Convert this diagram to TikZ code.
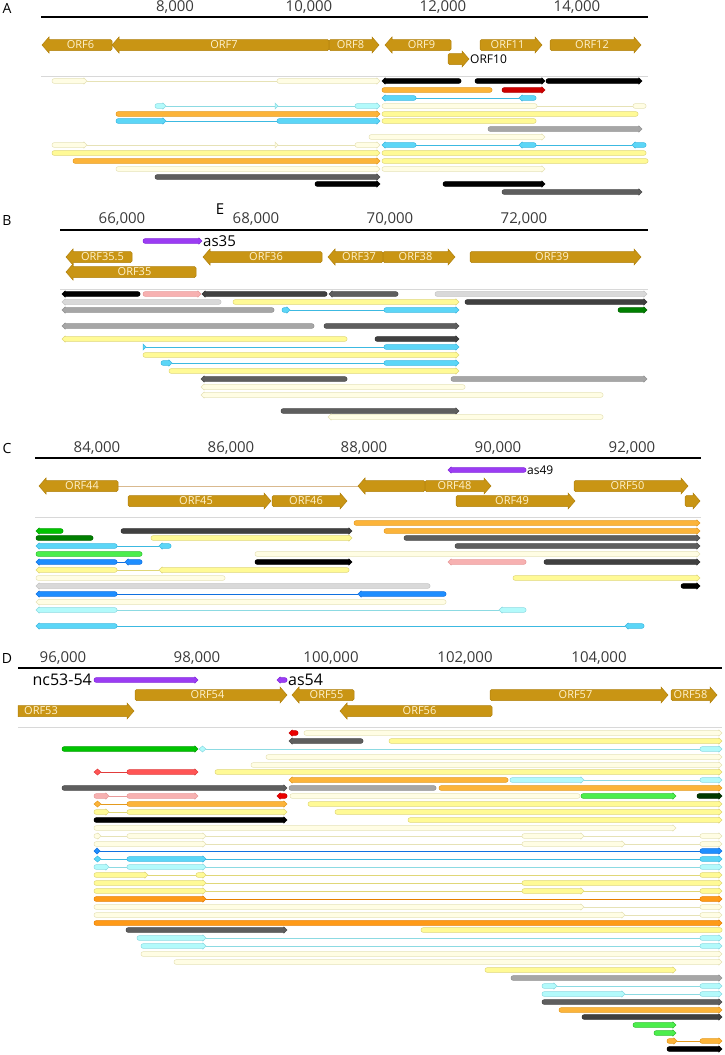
\documentclass[tikz,border=0pt]{standalone}
\usepackage{fontspec}
\setmainfont{Open Sans}
\definecolor{gold}{RGB}{201,149,20}
\definecolor{golddk}{RGB}{176,128,12}
\definecolor{glabc}{HTML}{FFF3CF}
\definecolor{tickc}{HTML}{3A3A3A}
\definecolor{sepc}{HTML}{D8D8D8}
\definecolor{tanc}{HTML}{D9B98F}
\tikzset{
 gene/.style={fill=gold,draw=golddk,line width=0.5pt},
 glab/.style={text=glabc,font=\fontsize{11}{12}\selectfont,inner sep=0pt},
 tick/.style={text=tickc,font=\fontsize{15}{16}\selectfont,inner sep=0pt},
 plab/.style={font=\fontsize{14}{15}\selectfont,inner sep=0pt},
 nlab/.style={font=\fontsize{15}{16}\selectfont,inner sep=0pt,anchor=west},
 axis/.style={line width=1.8pt},
 sep/.style={draw=sepc,line width=0.8pt},
 ty/.style={fill={rgb,255:red,255;green,250;blue,150},draw={rgb,255:red,224;green,215;blue,120},line width=0.5pt},
 tc/.style={fill={rgb,255:red,255;green,253;blue,228},draw={rgb,255:red,230;green,226;blue,182},line width=0.5pt},
 tcy/.style={fill={rgb,255:red,92;green,214;blue,247},draw={rgb,255:red,60;green,185;blue,225},line width=0.5pt},
 tlc/.style={fill={rgb,255:red,179;green,250;blue,251},draw={rgb,255:red,140;green,218;blue,226},line width=0.5pt},
 to/.style={fill={rgb,255:red,252;green,180;blue,58},draw={rgb,255:red,228;green,154;blue,30},line width=0.5pt},
 too/.style={fill={rgb,255:red,255;green,154;blue,23},draw={rgb,255:red,230;green,126;blue,0},line width=0.5pt},
 tk/.style={fill=black,draw=black,line width=0.5pt},
 tdg/.style={fill={rgb,255:red,94;green,94;blue,94},draw={rgb,255:red,74;green,74;blue,74},line width=0.5pt},
 tdk/.style={fill={rgb,255:red,64;green,64;blue,64},draw={rgb,255:red,50;green,50;blue,50},line width=0.5pt},
 tg/.style={fill={rgb,255:red,166;green,166;blue,166},draw={rgb,255:red,145;green,145;blue,145},line width=0.5pt},
 tlg/.style={fill={rgb,255:red,217;green,217;blue,217},draw={rgb,255:red,196;green,196;blue,196},line width=0.5pt},
 tr/.style={fill={rgb,255:red,204;green,0;blue,0},draw={rgb,255:red,180;green,0;blue,0},line width=0.5pt},
 tr2/.style={fill={rgb,255:red,235;green,0;blue,0},draw={rgb,255:red,200;green,0;blue,0},line width=0.5pt},
 tr3/.style={fill={rgb,255:red,255;green,85;blue,85},draw={rgb,255:red,225;green,60;blue,60},line width=0.5pt},
 tp/.style={fill={rgb,255:red,247;green,177;blue,177},draw={rgb,255:red,232;green,154;blue,154},line width=0.5pt},
 tb/.style={fill={rgb,255:red,30;green,142;blue,255},draw={rgb,255:red,16;green,112;blue,224},line width=0.5pt},
 tgr/.style={fill={rgb,255:red,0;green,196;blue,0},draw={rgb,255:red,0;green,160;blue,0},line width=0.5pt},
 tdgr/.style={fill={rgb,255:red,0;green,127;blue,0},draw={rgb,255:red,0;green,100;blue,0},line width=0.5pt},
 tlgr/.style={fill={rgb,255:red,76;green,238;blue,76},draw={rgb,255:red,48;green,192;blue,48},line width=0.5pt},
 tvdg/.style={fill={rgb,255:red,0;green,58;blue,0},draw={rgb,255:red,0;green,40;blue,0},line width=0.5pt},
 tpu/.style={fill={rgb,255:red,155;green,60;blue,243},draw={rgb,255:red,130;green,40;blue,220},line width=0.5pt},
}
% exon with right arrow: style, y, x1, x2
\newcommand\xr[4]{\filldraw[#1] ({#4-3.2},{#2-2.3}) [rounded corners=2pt] -- (#3,{#2-2.3}) -- (#3,{#2+2.3}) [sharp corners] -- ({#4-3.2},{#2+2.3}) -- ({#4-3.2},{#2+3.1}) -- (#4,#2) -- ({#4-3.2},{#2-3.1}) -- cycle;}
\newcommand\xl[4]{\filldraw[#1] ({#3+3.2},{#2-2.3}) [rounded corners=2pt] -- (#4,{#2-2.3}) -- (#4,{#2+2.3}) [sharp corners] -- ({#3+3.2},{#2+2.3}) -- ({#3+3.2},{#2+3.1}) -- (#3,#2) -- ({#3+3.2},{#2-3.1}) -- cycle;}
\newcommand\xn[4]{\filldraw[#1,rounded corners=2pt] (#3,{#2-2.3}) rectangle (#4,{#2+2.3});}
\newcommand\xd[4]{\filldraw[#1] (#3,#2) -- ({(#3+#4)/2},{#2-3}) -- (#4,#2) -- ({(#3+#4)/2},{#2+3}) -- cycle;}
\newcommand\xt[3]{\filldraw[#1] ({#3-3},{#2-3}) -- (#3,#2) -- ({#3-3},{#2+3}) -- cycle;}
\newcommand\cn[4]{\draw[#1,line width=0.7pt] (#3,#2) -- (#4,#2);}
% genes: y, x1, x2, label
\newcommand\gr[4]{\filldraw[gene] ({#3-7},{#1-5.5}) [rounded corners=1.5pt] -- (#2,{#1-5.5}) -- (#2,{#1+5.5}) [sharp corners] -- ({#3-7},{#1+5.5}) -- ({#3-7},{#1+8}) -- (#3,#1) -- ({#3-7},{#1-8}) -- cycle;
 \node[glab] (g#4#1) at ({(#2+#3-7)/2},#1) {#4};}
\newcommand\gl[4]{\filldraw[gene] ({#2+7},{#1-5.5}) -- ({#2+7},{#1-8}) -- (#2,#1) -- ({#2+7},{#1+8}) -- ({#2+7},{#1+5.5}) [rounded corners=1.5pt] -- (#3,{#1+5.5}) -- (#3,{#1-5.5}) [sharp corners] -- cycle;
 \node[glab] (g#4#1) at ({(#2+7+#3)/2},#1) {#4};}
\begin{document}
\begin{tikzpicture}[x=1pt,y=-1pt]
\useasboundingbox (0,0) rectangle (724,1055);
% ================= A =================
\node[plab] (lA) at (7,8) {A};
\draw[axis] (41,17) -- (648,17);
\node[tick] (ta1) at (175,7) {8,000};
\node[tick] (ta2) at (309,7) {10,000};
\node[tick] (ta3) at (443,7) {12,000};
\node[tick] (ta4) at (577,7) {14,000};
\gl{45}{42}{112}{ORF6}
\gl{45}{112}{329}{ORF7}
\gr{45}{329}{379}{ORF8}
\gl{45}{385}{451}{ORF9}
\gr{45}{480}{542}{ORF11}
\gr{45}{550}{641}{ORF12}
\gr{59}{448}{469}{}
\node[font=\fontsize{12}{13}\selectfont,inner sep=0pt,anchor=west] (orf10) at (470,59) {ORF10};
\draw[sep] (41,76) -- (648,76);
\cn{tc}{81}{87}{277} \xr{tc}{81}{52}{87} \xr{tc}{81}{277}{380}
\xl{tk}{81}{382}{461} \xr{tk}{81}{475}{545} \xr{tk}{81}{546}{642}
\xn{to}{90}{382}{492} \xr{tr}{90}{502}{545}
\cn{tcy}{98}{416}{519} \xl{tcy}{98}{382}{416} \xl{tcy}{98}{519}{536}
\cn{tlc}{106}{166}{355} \xr{tlc}{106}{155}{166} \xt{tlc}{106}{278} \xr{tlc}{106}{355}{380}
\cn{tc}{106}{537}{633} \xn{tc}{106}{382}{537} \xn{tc}{106}{633}{646}
\xr{to}{114}{116}{380} \xn{ty}{114}{382}{638}
\cn{tcy}{121}{166}{277} \xr{tcy}{121}{116}{166} \xr{tcy}{121}{277}{380} \xn{ty}{121}{382}{536}
\xr{tg}{129}{488}{642}
\xr{tc}{137}{369}{545}
\cn{tc}{145}{87}{355} \xr{tc}{145}{52}{87} \xt{tc}{145}{278} \xr{tc}{145}{355}{380}
\cn{tcy}{145}{416}{632} \xl{tcy}{145}{382}{416} \xl{tcy}{145}{519}{536} \xl{tcy}{145}{632}{646}
\xr{ty}{153}{52}{380} \xn{ty}{153}{382}{646}
\xr{to}{161}{73}{380} \xn{ty}{161}{382}{648}
\xr{tc}{169}{116}{380} \xr{tc}{169}{382}{545}
\xr{tdg}{177}{155}{380}
\xr{tk}{184}{315}{380} \xr{tk}{184}{443}{545}
\xr{tdg}{192}{502}{642}
% ================= B =================
\node[plab] (lB) at (7,220) {B};
\node[tick,text=black] (lE) at (220,209) {E};
\draw[axis] (60,230) -- (648,230);
\node[tick] (tb1) at (122,219) {66,000};
\node[tick] (tb2) at (256,219) {68,000};
\node[tick] (tb3) at (390,219) {70,000};
\node[tick] (tb4) at (524,219) {72,000};
\xr{tpu}{241}{143}{202}
\node[nlab] (as35) at (203,241) {as35};
\gl{257}{66}{132}{ORF35.5}
\gl{257}{203}{322}{ORF36}
\gl{257}{328}{383}{ORF37}
\gr{257}{383}{455}{ORF38}
\gr{257}{470}{641}{ORF39}
\gl{272}{66}{196}{ORF35}
\draw[sep] (60,289) -- (648,289);
\xl{tk}{294}{62}{140} \xr{tp}{294}{143}{201} \xl{tdk}{294}{202}{327} \xl{tdg}{294}{329}{398} \xr{tlg}{294}{435}{647}
\xl{tlg}{302}{62}{221} \xr{ty}{302}{233}{459} \xr{tdk}{302}{465}{647}
\xl{tg}{310}{62}{274} \cn{tcy}{310}{290}{384} \xr{tcy}{310}{282}{290} \xr{tcy}{310}{384}{459} \xr{tdgr}{310}{618}{647}
\xl{tg}{326}{62}{314} \xr{tdg}{326}{324}{459}
\xl{ty}{339}{62}{347} \xr{tdk}{339}{375}{459}
\cn{tcy}{347}{146}{384} \xt{tcy}{347}{146} \xr{tcy}{347}{384}{459}
\xr{ty}{355}{143}{459}
\cn{tcy}{363}{172}{384} \xr{tcy}{363}{161}{172} \xr{tcy}{363}{384}{459}
\xr{ty}{371}{169}{459}
\xl{tdg}{379}{201}{347} \xr{tg}{379}{451}{647}
\xl{tc}{387}{201}{465}
\xl{tc}{395}{201}{603}
\xr{tdg}{411}{281}{459}
\xl{tc}{417}{328}{603}
% ================= C =================
\node[plab] (lC) at (7,448) {C};
\draw[axis] (35,458) -- (701,458);
\node[tick] (tc1) at (97,448) {84,000};
\node[tick] (tc2) at (231,448) {86,000};
\node[tick] (tc3) at (364,448) {88,000};
\node[tick] (tc4) at (498,448) {90,000};
\node[tick] (tc5) at (632,448) {92,000};
\xl{tpu}{470}{448}{526}
\node[nlab,font=\fontsize{12}{13}\selectfont] (as49) at (527,470) {as49};
\draw[tanc,line width=0.8pt] (118,486) -- (358,486);
\gl{486}{39}{118}{ORF44}
\gl{486}{358}{425}{}
\gr{486}{425}{491}{ORF48}
\gr{486}{574}{688}{ORF50}
\gr{501}{128}{271}{ORF45}
\gr{501}{272}{347}{ORF46}
\gr{501}{456}{575}{ORF49}
\gr{501}{685}{700}{}
\draw[sep] (35,517) -- (701,517);
\xr{to}{523}{354}{700}
\xl{tgr}{531}{36}{63} \xr{tdk}{531}{121}{352} \xr{to}{531}{384}{700}
\xn{tdgr}{538}{36}{93} \xr{ty}{538}{151}{352} \xr{tdg}{538}{404}{700}
\cn{tcy}{546}{117}{159} \xl{tcy}{546}{36}{117} \xl{tcy}{546}{159}{171} \xr{tdg}{546}{455}{700}
\xn{tlgr}{554}{36}{142} \xr{tc}{554}{255}{700}
\cn{tb}{562}{117}{125} \xl{tb}{562}{36}{117} \xl{tb}{562}{125}{142} \xr{tk}{562}{255}{352} \xl{tp}{562}{448}{526} \xr{tdk}{562}{544}{700}
\cn{ty}{570}{117}{159} \xl{ty}{570}{36}{117} \xl{ty}{570}{159}{349}
\xn{tc}{578}{36}{225} \xr{ty}{578}{513}{700}
\xl{tlg}{586}{36}{430} \xr{tk}{586}{681}{700}
\cn{tb}{594}{117}{358} \xl{tb}{594}{36}{117} \xl{tb}{594}{358}{446}
\xl{tc}{602}{36}{446}
\cn{tlc}{610}{117}{499} \xl{tlc}{610}{36}{117} \xl{tlc}{610}{499}{526}
\cn{tcy}{626}{117}{625} \xl{tcy}{626}{36}{117} \xl{tcy}{626}{625}{644}
% ================= D =================
\node[plab] (lD) at (7,658) {D};
\draw[axis] (18,668) -- (722,668);
\node[tick] (td1) at (63,658) {96,000};
\node[tick] (td2) at (197,658) {98,000};
\node[tick] (td3) at (331,658) {100,000};
\node[tick] (td4) at (465,658) {102,000};
\node[tick] (td5) at (599,658) {104,000};
\node[nlab,anchor=east,font=\fontsize{16}{17}\selectfont] (nc) at (92,680) {nc53-54};
\xr{tpu}{680}{94}{198}
\xl{tpu}{680}{277}{287}
\node[nlab,font=\fontsize{16}{17}\selectfont] (as54) at (288,680) {as54};
\gr{695}{135}{287}{ORF54}
\gl{695}{292}{354}{ORF55}
\gr{695}{490}{668}{ORF57}
\gr{695}{671}{717}{ORF58}
\filldraw[gene] (127,705.5) -- (18,705.5) -- (18,716.5) -- (127,716.5) -- (127,719) -- (134,711) -- (127,703) -- cycle;
\node[glab] (gORF53) at (41,711) {ORF53};
\gl{711}{340}{492}{ORF56}
\draw[sep] (18,727) -- (722,727);
\xl{tr2}{733}{289}{298} \xr{tc}{733}{304}{722}
\xl{tdg}{741}{289}{363} \xr{ty}{741}{389}{722}
\cn{tlc}{749}{206}{700} \xr{tgr}{749}{62}{198} \xd{tlc}{749}{199}{206} \xr{tlc}{749}{700}{722}
\xr{tc}{757}{266}{722}
\xr{tc}{765}{251}{722}
\cn{tr3}{772}{101}{127} \xd{tr3}{772}{94}{101} \xr{tr3}{772}{127}{198} \xr{ty}{772}{215}{722}
\cn{tlc}{780}{584}{700} \xl{to}{780}{289}{508} \xr{tlc}{780}{510}{584} \xr{tlc}{780}{700}{722}
\xr{tdg}{788}{62}{287} \xn{tg}{788}{289}{436} \xr{to}{788}{439}{722}
\cn{tp}{796}{109}{127} \xr{tp}{796}{94}{109} \xr{tp}{796}{127}{198} \xl{tr2}{796}{277}{287} \xn{tc}{796}{290}{580} \xr{tlgr}{796}{581}{676} \xr{tvdg}{796}{697}{722}
\cn{to}{804}{101}{127} \xd{to}{804}{94}{101} \xr{to}{804}{127}{287} \xr{ty}{804}{308}{722}
\cn{ty}{812}{109}{127} \xr{ty}{812}{94}{109} \xr{ty}{812}{127}{287} \xr{ty}{812}{335}{722}
\xr{tk}{820}{94}{287} \xr{ty}{820}{408}{722}
\xr{tc}{828}{94}{676}
\cn{tc}{836}{101}{700} \xr{tc}{836}{94}{101} \xr{tc}{836}{127}{206} \xr{tc}{836}{522}{584} \xr{tc}{836}{700}{722}
\cn{tc}{844}{206}{700} \xr{tc}{844}{94}{206} \xr{tc}{844}{522}{625} \xr{tc}{844}{700}{722}
\cn{tb}{851}{100}{700} \xd{tb}{851}{94}{100} \xr{tb}{851}{700}{722}
\cn{tcy}{859}{101}{700} \xd{tcy}{859}{94}{101} \xr{tcy}{859}{127}{206} \xr{tcy}{859}{700}{722}
\cn{tlc}{867}{109}{700} \xr{tlc}{867}{94}{109} \xr{tlc}{867}{127}{206} \xr{tlc}{867}{700}{722}
\cn{ty}{875}{148}{700} \xr{ty}{875}{94}{148} \xr{ty}{875}{196}{206} \xr{ty}{875}{700}{722}
\cn{ty}{883}{206}{522} \xr{ty}{883}{94}{206} \xr{ty}{883}{522}{722}
\cn{ty}{891}{206}{700} \xr{ty}{891}{94}{206} \xr{ty}{891}{522}{584} \xr{ty}{891}{700}{722}
\cn{too}{899}{206}{700} \xr{too}{899}{94}{206} \xr{too}{899}{700}{722}
\cn{tc}{907}{584}{700} \xr{tc}{907}{94}{584} \xr{tc}{907}{700}{722}
\cn{tc}{915}{625}{700} \xr{tc}{915}{94}{625} \xr{tc}{915}{700}{722}
\xr{too}{923}{94}{722}
\xr{tdg}{930}{126}{287} \xn{ty}{930}{421}{722}
\cn{tlc}{938}{206}{700} \xr{tlc}{938}{137}{206} \xr{tlc}{938}{700}{722}
\cn{tlc}{946}{206}{700} \xr{tlc}{946}{141}{206} \xr{tlc}{946}{700}{722}
\xr{tc}{954}{141}{722}
\xr{tc}{962}{174}{722}
\xr{ty}{970}{485}{676}
\xr{tg}{978}{511}{722}
\cn{tlc}{986}{557}{700} \xr{tlc}{986}{542}{557} \xr{tlc}{986}{700}{722}
\cn{tlc}{994}{625}{700} \xr{tlc}{994}{542}{625} \xr{tlc}{994}{700}{722}
\xr{tdg}{1002}{542}{722}
\xr{to}{1010}{559}{722}
\xr{tdk}{1017}{582}{722}
\xr{tlgr}{1025}{633}{676}
\xr{tlgr}{1033}{654}{676}
\cn{to}{1041}{677}{700} \xr{to}{1041}{667}{677} \xr{to}{1041}{700}{722}
\xr{tk}{1049}{667}{722}
\end{tikzpicture}
\end{document}
